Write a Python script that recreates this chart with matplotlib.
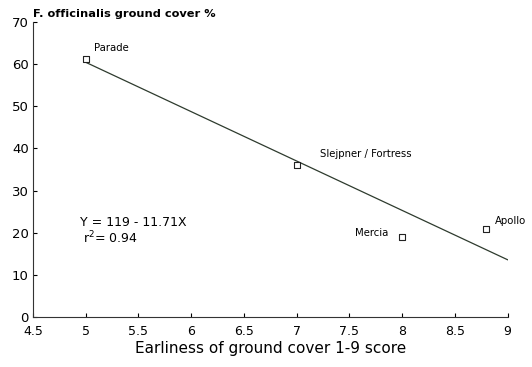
import matplotlib.pyplot as plt
import numpy as np

cultivars = ['Parade', 'Slejpner / Fortress', 'Mercia', 'Apollo']
earliness = [5.0, 7.0, 8.0, 8.8]
ground_cover = [61.3, 36.1, 19.1, 20.9]

intercept = 119
slope = -11.71
r_squared = 0.94

plt.rcParams['font.family'] = 'DejaVu Sans'

fig = plt.figure(figsize=(5.32, 3.67), dpi=100)
ax = fig.add_axes([0.062, 0.136, 0.892, 0.804])

# fitted line from the first to the last score
x_fit = np.array([5.0, 9.0])
ax.plot(x_fit, intercept + slope * x_fit, color='#2e3b2e', linewidth=0.9, zorder=1)

ax.scatter(earliness, ground_cover, marker='s', s=24, facecolor='white',
           edgecolor='#222222', linewidth=0.8, zorder=2)

offsets = [(6, 4), (17, 4), (-10, -1), (6, 2)]
aligns = ['left', 'left', 'right', 'left']
for name, x, y, off, ha in zip(cultivars, earliness, ground_cover, offsets, aligns):
    ax.annotate(name, (x, y), xytext=off, textcoords='offset points', ha=ha,
                va='bottom', fontsize=7.3)

ax.text(4.95, 21.5, 'Y = %d - %.2fX' % (intercept, -slope), fontsize=9)
ax.text(4.97, 17.5, 'r$^2$= %.2f' % r_squared, fontsize=9)

ax.set_xlim(4.5, 9)
ax.set_ylim(0, 70)
ax.set_xticks(np.arange(4.5, 9.01, 0.5))
ax.set_xticklabels(['4.5', '5', '5.5', '6', '6.5', '7', '7.5', '8', '8.5', '9'])
ax.set_yticks(range(0, 71, 10))
ax.tick_params(axis='x', direction='in', length=3, labelsize=9, pad=6)
ax.tick_params(axis='y', direction='in', length=3, labelsize=9.5, pad=3)

for side in ['top', 'right']:
    ax.spines[side].set_visible(False)
ax.spines['left'].set_color('#333333')
ax.spines['bottom'].set_color('#333333')

ax.set_xlabel('Earliness of ground cover 1-9 score', fontsize=11, labelpad=2)
fig.text(0.062, 0.955, 'F. officinalis ground cover %', fontsize=8.2,
         fontweight='bold')

fig.savefig('out.png', dpi=100, facecolor='white')
